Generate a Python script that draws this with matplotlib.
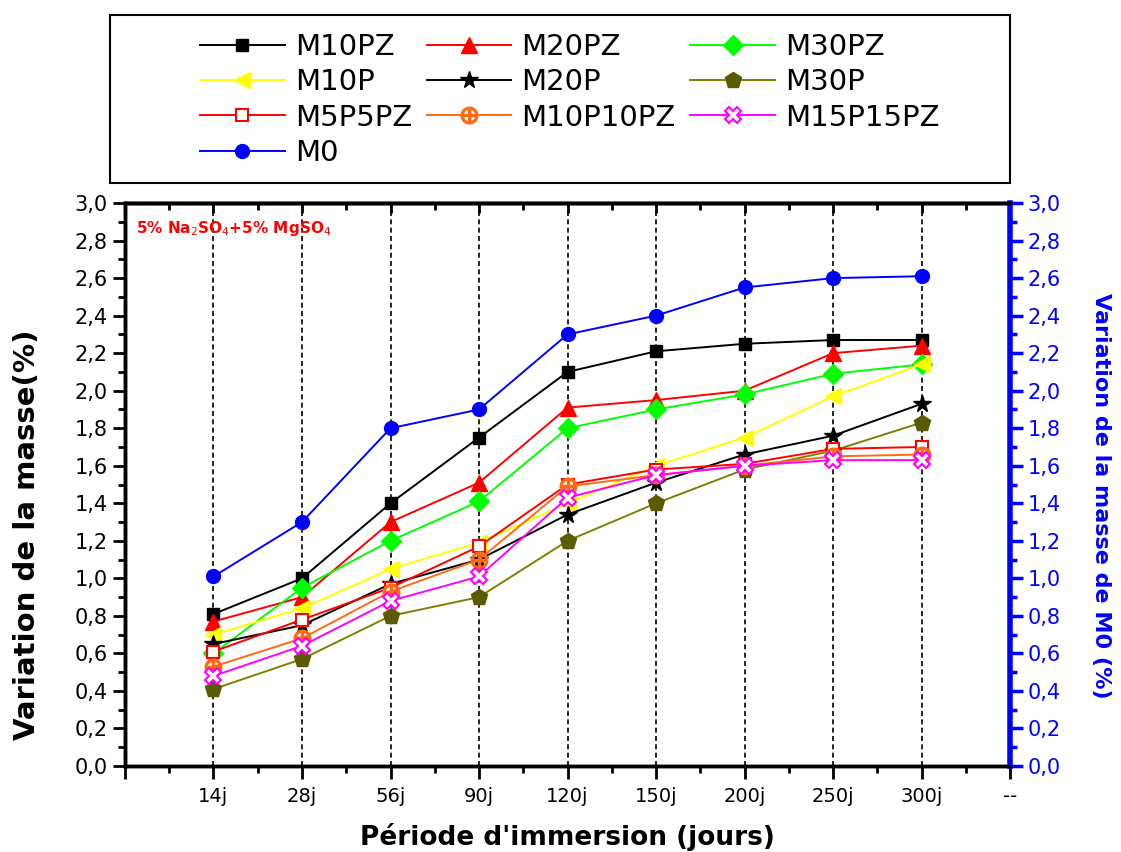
import numpy as np
import matplotlib
matplotlib.use('Agg')
import matplotlib.pyplot as plt
from matplotlib.ticker import MultipleLocator, FuncFormatter
from matplotlib.patches import Rectangle

# immersion periods and mass variation (%) for each mix
periods = ['14j', '28j', '56j', '90j', '120j', '150j', '200j', '250j', '300j']
M10PZ = [0.81, 1.00, 1.40, 1.75, 2.10, 2.21, 2.25, 2.27, 2.27]
M20PZ = [0.77, 0.90, 1.30, 1.51, 1.91, 1.95, 2.00, 2.20, 2.24]
M30PZ = [0.60, 0.95, 1.20, 1.41, 1.80, 1.90, 1.98, 2.09, 2.14]
M10P = [0.70, 0.84, 1.05, 1.19, 1.40, 1.60, 1.75, 1.97, 2.14]
M20P = [0.65, 0.75, 0.97, 1.10, 1.34, 1.51, 1.66, 1.76, 1.93]
M30P = [0.41, 0.57, 0.80, 0.90, 1.20, 1.40, 1.58, 1.68, 1.83]
M5P5PZ = [0.61, 0.78, 0.95, 1.17, 1.50, 1.58, 1.61, 1.69, 1.70]
M10P10PZ = [0.53, 0.68, 0.93, 1.10, 1.49, 1.55, 1.60, 1.65, 1.66]
M15P15PZ = [0.48, 0.64, 0.88, 1.01, 1.43, 1.55, 1.60, 1.63, 1.63]
M0 = [1.01, 1.30, 1.80, 1.90, 2.30, 2.40, 2.55, 2.60, 2.61]

x = np.arange(1, len(periods) + 1)

fig = plt.figure(figsize=(11.21, 8.52), dpi=100)
ax = fig.add_axes([0.1115, 0.1009, 0.7895, 0.6608])
ax2 = ax.twinx()

lw = 1.4
h = []
h += ax.plot(x, M10PZ, '-s', color='black', lw=lw, ms=9, label='M10PZ')
h += ax.plot(x, M20PZ, '-^', color='red', lw=lw, ms=12, label='M20PZ')
h += ax.plot(x, M30PZ, '-D', color='#00ff00', lw=lw, ms=10, label='M30PZ')
h += ax.plot(x, M10P, '-<', color='#ffff00', lw=lw, ms=12, label='M10P')
h += ax.plot(x, M20P, '-*', color='black', lw=lw, ms=13, label='M20P')
h += ax.plot(x, M30P, '-p', color='#808000', mfc='#5a5a00', mec='#5a5a00',
             lw=lw, ms=12, label='M30P')
h += ax.plot(x, M5P5PZ, '-s', color='red', mfc='white', mec='red', mew=1.5,
             lw=lw, ms=8, label='M5P5PZ')
h += ax.plot(x, M10P10PZ, '-', marker=r'$\oplus$', color='#ff6a13',
             lw=lw, ms=12, label='M10P10PZ')
h += ax.plot(x, M15P15PZ, '-X', color='#ff00ff', mfc='white', mec='#ff00ff',
             mew=1.5, lw=lw, ms=12, label='M15P15PZ')
h += ax2.plot(x, M0, '-o', color='#0000ff', lw=lw, ms=10, label='M0')

comma = FuncFormatter(lambda v, p: ('%.1f' % v).replace('.', ','))

for a in (ax, ax2):
    a.set_xlim(0, 10)
    a.set_ylim(0, 3.0)
    a.yaxis.set_major_locator(MultipleLocator(0.2))
    a.yaxis.set_minor_locator(MultipleLocator(0.1))
    a.yaxis.set_major_formatter(comma)

ax.set_xticks(np.arange(0, 11))
ax.set_xticklabels([''] + periods + ['--'])
ax.xaxis.set_minor_locator(MultipleLocator(0.5))
ax.tick_params(axis='x', which='major', direction='out', length=9, width=2,
               labelsize=14, pad=6, top=False)
ax.tick_params(axis='x', which='minor', direction='out', length=5, width=2,
               top=False)
ax.tick_params(axis='y', which='major', direction='out', length=9, width=2,
               labelsize=15)
ax.tick_params(axis='y', which='minor', direction='out', length=5, width=2)

# inward mirror ticks along the top spine
sec = ax.secondary_xaxis('top')
sec.set_xticks(np.arange(0, 11))
sec.xaxis.set_minor_locator(MultipleLocator(0.5))
sec.tick_params(axis='x', which='major', direction='in', length=7, width=2,
                labeltop=False)
sec.tick_params(axis='x', which='minor', direction='in', length=5, width=2)
sec.spines['top'].set_linewidth(2.5)

# vertical dashed guides at each period
for xi in x:
    ax.axvline(xi, color='black', lw=1.2, linestyle=(0, (3, 2)), zorder=0)

for s in ('left', 'bottom', 'top'):
    ax.spines[s].set_linewidth(2.5)
ax2.spines['right'].set_color('#0000ff')
ax2.spines['right'].set_linewidth(4)
ax2.spines['left'].set_linewidth(2.5)
ax2.spines['bottom'].set_linewidth(2.5)
ax2.spines['top'].set_linewidth(2.5)
ax2.tick_params(axis='y', which='major', colors='#0000ff', direction='out',
                length=9, width=2.5, labelsize=15)
ax2.tick_params(axis='y', which='minor', colors='#0000ff', direction='out',
                length=5, width=2.5)

ax.set_xlabel("Période d'immersion (jours)", fontsize=19, fontweight='bold',
              labelpad=12)
ax.set_ylabel('Variation de la masse(%)', fontsize=21, fontweight='bold')
ax.yaxis.set_label_coords(-0.095, 0.41)
ax2.set_ylabel('Variation de la masse de M0 (%)', fontsize=16,
               fontweight='bold', color='#0000ff', rotation=270,
               va='center')
ax2.yaxis.set_label_coords(1.103, 0.48)

ax.text(0.012, 0.955, r'5% Na$_2$SO$_4$+5% MgSO$_4$', transform=ax.transAxes,
        color='red', fontsize=11, fontweight='bold', va='center')

# legend box above the plot
fig.patches.append(Rectangle((0.0981, 0.785), 0.803, 0.197,
                             transform=fig.transFigure, fill=False,
                             edgecolor='black', lw=1.5))
order = [0, 3, 6, 9, 1, 4, 7, 2, 5, 8]
fig.legend([h[i] for i in order], [h[i].get_label() for i in order],
           loc='upper left', bbox_to_anchor=(200 / 1121, (852 - 33) / 852),
           ncol=3, frameon=False, fontsize=21, handlelength=2.9,
           handletextpad=0.35, columnspacing=0.5, labelspacing=0.25,
           borderpad=0, borderaxespad=0)

fig.savefig('out.png', dpi=100)
